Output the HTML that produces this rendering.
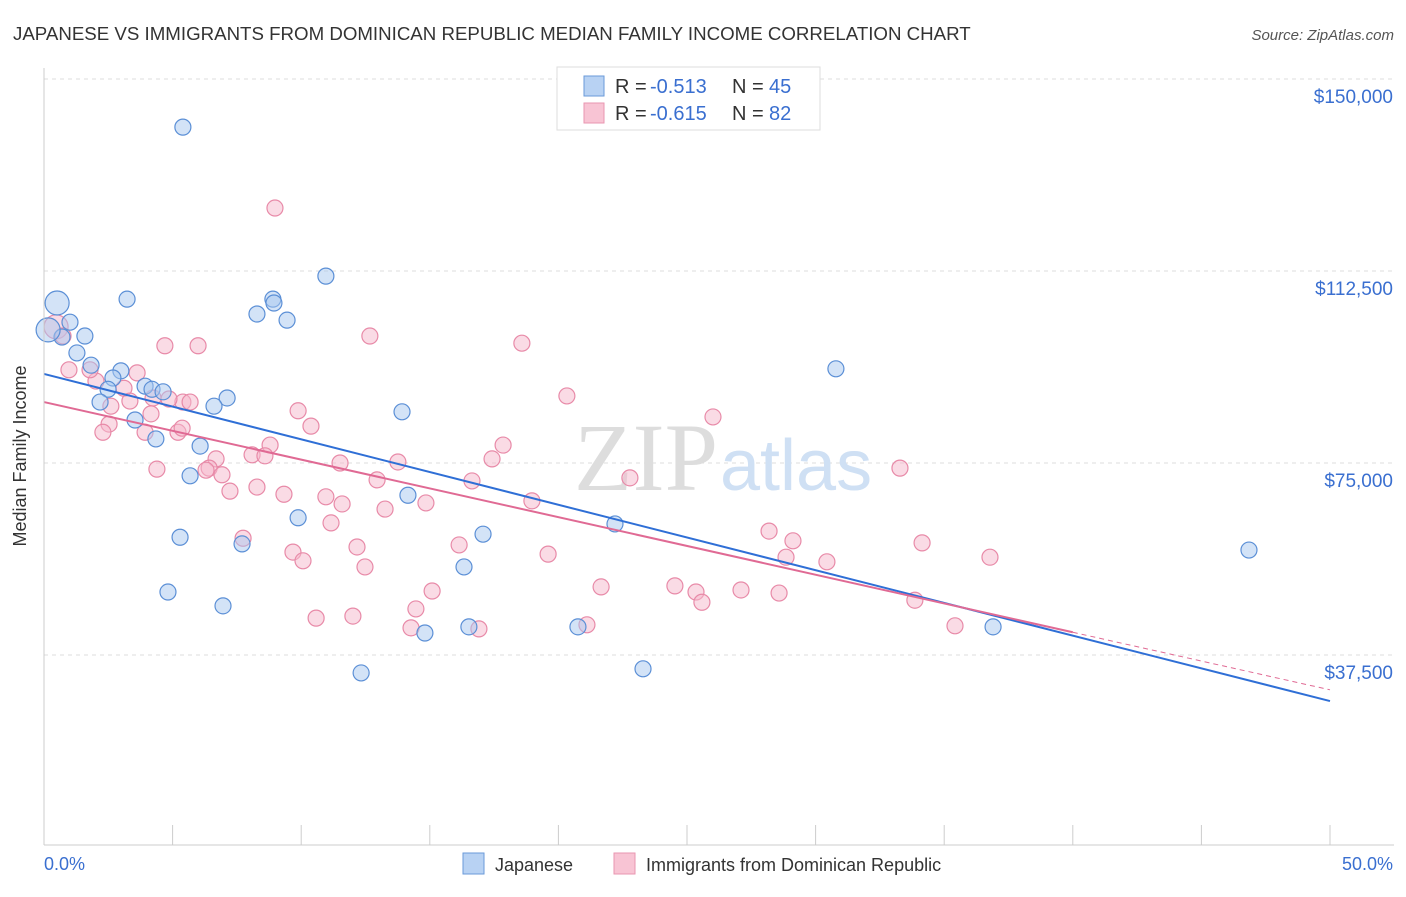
<!DOCTYPE html>
<html><head><meta charset="utf-8"><style>
body{margin:0;background:#fff;font-family:"Liberation Sans",sans-serif;}
svg text{font-family:"Liberation Sans",sans-serif;}
</style></head><body>
<svg id="c" width="1406" height="892" xmlns="http://www.w3.org/2000/svg">
<text x="13" y="40" font-size="18.7" fill="#333">JAPANESE VS IMMIGRANTS FROM DOMINICAN REPUBLIC MEDIAN FAMILY INCOME CORRELATION CHART</text>
<text x="1394" y="40" font-size="15" fill="#555" font-style="italic" text-anchor="end">Source: ZipAtlas.com</text>
<g id="grid"></g>
<text x="718" y="490" font-size="96" fill="#ddd" text-anchor="end" style="font-family:'Liberation Serif',serif">ZIP</text>
<text x="720" y="490" font-size="72" fill="#cfe0f4">atlas</text>
<g id="pts"></g>
<g id="lines"></g>
<g id="axes"></g>
<text x="26" y="456" font-size="18" fill="#333" text-anchor="middle" transform="rotate(-90 26 456)">Median Family Income</text>
<text x="44" y="870" font-size="18" fill="#3a6fd0">0.0%</text>
<text x="1393" y="870" font-size="18" fill="#3a6fd0" text-anchor="end">50.0%</text>
<g>
<rect x="557" y="67" width="263" height="63" fill="#fff" stroke="#ddd"/>
<rect x="584" y="76" width="20" height="20" fill="#b8d2f3" stroke="#6a9ad8"/>
<rect x="584" y="103" width="20" height="20" fill="#f8c4d4" stroke="#e996b0"/>
<text x="615" y="93" font-size="20" fill="#333">R =</text>
<text x="650" y="93" font-size="20" fill="#3a6fd0">-0.513</text>
<text x="732" y="93" font-size="20" fill="#333">N =</text>
<text x="769" y="93" font-size="20" fill="#3a6fd0">45</text>
<text x="615" y="120" font-size="20" fill="#333">R =</text>
<text x="650" y="120" font-size="20" fill="#3a6fd0">-0.615</text>
<text x="732" y="120" font-size="20" fill="#333">N =</text>
<text x="769" y="120" font-size="20" fill="#3a6fd0">82</text>
</g>
<g>
<rect x="463" y="853" width="21" height="21" fill="#b8d2f3" stroke="#6a9ad8"/>
<text x="495" y="871" font-size="18" fill="#333">Japanese</text>
<rect x="614" y="853" width="21" height="21" fill="#f8c4d4" stroke="#e996b0"/>
<text x="646" y="871" font-size="18" fill="#333">Immigrants from Dominican Republic</text>
</g>
</svg>
<script>
const yTicks=[37500,75000,112500,150000];
const yTickLabels=["$37,500","$75,000","$112,500","$150,000"];
const xTicks=[0,5,10,15,20,25,30,35,40,45,50];
const jpX=[5.40,0.51,3.23,10.96,8.90,8.94,8.28,9.45,1.01,1.59,0.70,1.28,1.83,2.99,2.68,2.49,3.93,4.20,4.63,7.12,2.18,6.61,13.92,3.54,4.35,6.07,5.68,14.15,9.88,22.20,5.29,17.07,7.70,16.33,4.82,6.96,14.81,16.52,20.76,12.33,23.29,30.79,46.85,36.90,0.16];
const jpY=[140600,106250,107000,111500,107000,106250,104100,102900,102500,99800,99600,96500,94100,93000,91600,89400,90000,89400,88900,87700,86900,86100,85000,83400,79700,78300,72500,68700,64300,63100,60500,61100,59200,54700,49800,47100,41800,43000,43000,34000,34800,93400,58000,43000,101000];
const drX=[8.98,12.67,18.58,4.70,5.99,0.47,0.74,0.97,2.02,1.79,3.62,3.11,3.34,2.60,4.24,5.40,4.86,5.68,20.33,4.16,9.88,26.01,2.53,2.29,3.93,5.21,5.37,10.38,17.85,8.79,8.09,8.59,6.69,17.42,11.51,13.76,4.39,6.42,6.30,6.92,33.28,16.64,12.95,22.78,7.23,8.28,9.33,10.96,11.59,14.85,13.26,18.97,11.16,7.74,28.19,29.12,16.14,12.17,19.60,9.68,34.14,36.78,28.85,30.44,10.07,12.48,21.66,15.09,24.53,25.35,25.58,27.10,28.58,33.86,14.46,10.58,12.01,14.27,16.91,21.11,35.42];
const drY=[124800,99800,98400,97900,97900,101600,99800,93200,91000,93200,92600,89600,87100,86100,87700,86900,87500,86900,88100,84600,85200,84000,82600,81000,81000,81000,81800,82200,78500,78500,76600,76400,75800,75800,75000,75200,73800,74000,73600,72700,74000,71500,71700,72100,69500,70300,68900,68400,67000,67200,66000,67600,63300,60300,61700,59800,59000,58600,57200,57600,59400,56600,56600,55700,55900,54700,50800,50000,51000,49800,47800,50200,49600,48200,46500,44700,45100,42800,42600,43400,43200];
const jpTrend=[92400,28500];
const drTrend=[86900,30700];
const drSolidEnd=40;
const NS="http://www.w3.org/2000/svg";
const X=v=>44+v*25.72, Y=v=>847-v/37500*192;
function mk(t,a,p){const e=document.createElementNS(NS,t);for(const k in a)e.setAttribute(k,a[k]);p.appendChild(e);return e;}
const grid=document.getElementById('grid'),axes=document.getElementById('axes'),pts=document.getElementById('pts'),lines=document.getElementById('lines');
yTicks.forEach((v,i)=>{
 const l=mk('line',{x1:44,x2:1394,y1:Y(v),y2:Y(v),stroke:'#ddd','stroke-dasharray':'4,4'},grid);
 
 
 const t=mk('text',{x:1393,y:Y(v)+24,'font-size':19,fill:'#3a6fd0','text-anchor':'end'},axes);
 t.textContent=yTickLabels[i];
 
 
});
mk('line',{x1:44,x2:1394,y1:845,y2:845,stroke:'#ccc'},axes);
mk('line',{x1:44,x2:44,y1:68,y2:845,stroke:'#ccc'},axes);
xTicks.forEach(v=>{const t=mk('line',{x1:X(v),x2:X(v),y1:825,y2:845,stroke:'#ccc'},axes);
 
 });
function dots(xs,ys,fill,stroke,name){xs.forEach((x,i)=>{const big=x<0.6;const c=mk('circle',{cx:X(x),cy:Y(ys[i]),r:big?12:8,fill:fill,'fill-opacity':0.5,stroke:stroke,'stroke-width':1.2},pts);
 
 });}
dots(drX,drY,'#f5b8cc','#e88aa8','point-dominican');
dots(jpX,jpY,'#a8c8f0','#5b8fd6','point-japanese');
const jl=mk('line',{x1:X(0),y1:Y(jpTrend[0]),x2:X(50),y2:Y(jpTrend[1]),stroke:'#2f6fd6','stroke-width':2},lines);


const dy=x=>drTrend[0]+(drTrend[1]-drTrend[0])*x/50;
const pl=mk('line',{x1:X(0),y1:Y(dy(0)),x2:X(drSolidEnd),y2:Y(dy(drSolidEnd)),stroke:'#e06a94','stroke-width':2},lines);


const pd=mk('line',{x1:X(drSolidEnd),y1:Y(dy(drSolidEnd)),x2:X(50),y2:Y(dy(50)),stroke:'#e06a94','stroke-width':1,'stroke-dasharray':'5,4'},lines);


</script>
</body></html>
